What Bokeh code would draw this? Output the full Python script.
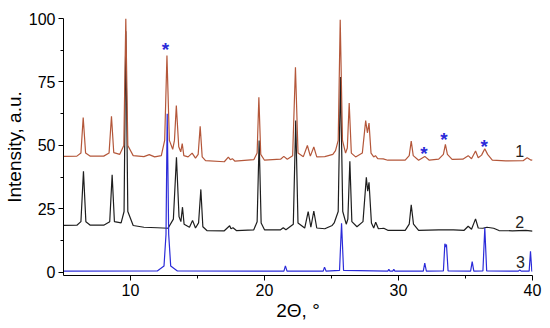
from bokeh.plotting import figure
from bokeh.models import Range1d, FixedTicker, Title
from bokeh.core.properties import value
from bokeh.embed import file_html
from bokeh.resources import INLINE

# ---- data ----
x1 = [5.0, 6.0, 6.3, 6.47, 6.65, 7.0, 8.0, 8.4, 8.58, 8.75, 9.2, 9.5, 9.65, 9.8, 10.2, 11.0, 11.4, 11.8,
      12.3, 12.55, 12.72, 12.9, 13.15, 13.28, 13.42, 13.6, 13.75, 13.86, 13.98, 14.3, 14.6, 14.85, 15.05,
      15.2, 15.35, 15.6, 17.0, 17.3, 17.45, 17.6, 17.8, 19.2, 19.45, 19.58, 19.72, 20.0, 21.2, 21.44, 21.7,
      22.1, 22.31, 22.5, 22.9, 23.2, 23.42, 23.68, 23.9, 24.5, 25.1, 25.3, 25.5, 25.65, 25.82, 26.05, 26.18,
      26.32, 26.48, 26.8, 27.3, 27.55, 27.68, 27.8, 27.95, 28.15, 28.28, 28.45, 28.86, 29.2, 30.5, 30.8,
      30.95, 31.1, 31.5, 31.96, 32.3, 33.0, 33.35, 33.5, 33.65, 34.0, 34.8, 35.2, 35.45, 35.75, 35.95, 36.2,
      36.44, 36.65, 37.0, 38.0, 39.3, 39.6, 39.9, 40.0]
y1 = [45.7, 45.8, 47.0, 61.0, 47.0, 45.8, 45.8, 47.0, 61.5, 47.2, 46.5, 50.0, 100.0, 50.0, 46.0, 45.6, 46.4, 45.5,
      46.0, 52.0, 85.4, 52.0, 48.5, 52.0, 65.7, 49.5, 47.5, 50.7, 46.0, 45.5, 47.0, 45.0, 46.5,
      57.6, 45.5, 44.0, 43.6, 45.4, 44.4, 44.8, 43.8, 44.4, 47.0, 69.0, 46.5, 44.2, 44.6, 45.7, 44.6,
      46.0, 80.8, 47.0, 45.6, 50.0, 45.8, 49.4, 45.5, 45.6, 46.5, 48.0, 52.0, 99.5, 52.0, 47.0, 49.0,
      66.7, 47.0, 45.5, 47.0, 59.8, 55.0, 58.8, 47.0, 45.5, 46.0, 44.8, 44.7, 44.2, 44.2, 46.0,
      51.7, 46.0, 44.2, 45.7, 44.2, 44.6, 46.5, 50.4, 46.5, 44.5, 44.6, 46.0, 44.8, 47.8, 45.2, 46.2,
      48.7, 46.5, 44.2, 43.9, 44.0, 45.2, 44.2, 44.3]

x2 = [5.0, 6.0, 6.3, 6.49, 6.67, 7.0, 8.0, 8.45, 8.63, 8.8, 9.3, 9.52, 9.65, 9.8, 10.2, 11.0, 12.0, 12.8,
      13.2, 13.43, 13.62, 13.76, 13.88, 14.0, 14.4, 14.63, 14.85, 15.08, 15.25, 15.4, 15.7, 17.0, 17.4,
      17.5, 17.65, 17.9, 19.2, 19.45, 19.6, 19.75, 20.0, 21.2, 21.4, 21.6, 22.15, 22.33, 22.5, 23.0, 23.26,
      23.46, 23.68, 23.9, 24.5, 25.05, 25.2, 25.5, 25.67, 25.84, 26.1, 26.22, 26.37, 26.52, 26.9, 27.35,
      27.6, 27.7, 27.8, 27.98, 28.15, 28.3, 28.5, 28.9, 29.2, 30.5, 30.8, 30.95, 31.12, 31.5, 33.0, 34.1,
      34.9, 35.2, 35.45, 35.75, 35.95, 36.3, 36.6, 37.1, 37.5, 38.5, 39.5, 40.0]
y2 = [18.5, 18.6, 20.0, 39.8, 20.0, 18.6, 18.6, 20.0, 38.5, 20.0, 19.5, 24.0, 95.0, 24.0, 18.5, 17.8, 17.6, 17.4,
      21.0, 45.4, 22.0, 20.0, 25.7, 19.0, 17.8, 20.5, 17.5, 19.5, 32.7, 18.0, 16.5, 16.4, 18.4,
      17.2, 17.6, 16.5, 16.8, 20.0, 52.0, 19.5, 16.8, 16.8, 17.6, 16.8, 19.0, 59.8, 19.5, 17.5, 24.0,
      17.8, 24.2, 17.5, 17.2, 18.5, 19.5, 24.0, 77.0, 24.0, 19.0, 21.0, 43.8, 20.0, 18.0, 20.0,
      37.5, 32.0, 35.5, 19.5, 17.5, 19.8, 17.2, 17.4, 16.6, 16.6, 19.0, 26.6, 19.0, 16.6, 16.8, 16.8,
      16.6, 18.2, 17.0, 21.1, 17.5, 17.4, 17.8, 17.4, 16.5, 16.4, 16.6, 16.3]

x3 = [5.0, 12.0, 12.5, 12.65, 12.74, 12.85, 13.0, 13.5, 21.45, 21.56, 21.68, 24.38, 24.48, 24.6, 25.6, 25.75,
      25.9, 29.2, 29.28, 29.36, 29.57, 29.65, 29.73, 31.85, 31.96, 32.08, 33.35, 33.46, 33.52, 33.58, 33.7,
      35.38, 35.5, 35.62, 36.3, 36.44, 36.58, 38.95, 39.05, 39.15, 39.75, 39.85, 39.95, 40.0]
y3 = [0.5, 0.6, 2.5, 15.0, 62.5, 15.0, 2.5, 0.6, 0.5, 2.6, 0.5, 0.5, 2.1, 0.5, 0.8, 19.4,
      0.8, 0.5, 1.2, 0.5, 0.5, 1.2, 0.5, 0.5, 3.7, 0.5, 0.6, 11.3, 10.0, 11.0, 0.6,
      0.5, 4.3, 0.5, 0.6, 17.6, 0.6, 0.5, 1.0, 0.5, 0.5, 8.3, 0.5, 0.5]

star_x = [12.6, 31.9, 33.4, 36.4]
star_y = [89.4, 48.6, 53.9, 51.3]

label_text = ["1", "2", "3"]
label_x = [39.05, 39.05, 39.1]
label_y = [48.0, 19.8, 4.0]

x_ticks = [10, 20, 30, 40]
x_minor = [15, 25, 35]
y_ticks = [0, 25, 50, 75, 100]
y_minor = [12.5, 37.5, 62.5, 87.5]

x_title = "2Θ, °"
y_title = "Intensity, a.u."

FONT = "Liberation Sans"

p = figure(width=550, height=328, output_backend="svg", toolbar_location=None,
           x_range=Range1d(5, 40), y_range=Range1d(-1.2, 100),
           min_border_left=63, min_border_right=18, min_border_top=18, min_border_bottom=53)
p.outline_line_color = None
p.grid.visible = False
p.background_fill_color = "white"
p.border_fill_color = "white"

p.line(x2, y2, line_color="#1e1e1e", line_width=1.2)
p.line(x3, y3, line_color="#2b2bd9", line_width=1.2)
p.line(x1, y1, line_color="#b4573a", line_width=1.2)

p.text(x=star_x, y=star_y, text=["*"] * len(star_x), text_font=value(FONT), text_font_size="19px",
       text_font_style="bold", text_color="#2b2bd9", text_align="center", text_baseline="alphabetic",
       y_offset=4)

p.text(x=label_x, y=label_y, text=label_text, text_font=value(FONT), text_font_size="16px",
       text_color="#222222", text_align="center", text_baseline="middle")

for ax in (p.xaxis[0], p.yaxis[0]):
    ax.axis_line_color = "black"
    ax.axis_line_width = 1
    ax.major_tick_line_color = "black"
    ax.minor_tick_line_color = "black"
    ax.major_tick_in = 0
    ax.major_tick_out = 5
    ax.minor_tick_in = 0
    ax.minor_tick_out = 3
    ax.major_label_text_font = FONT
    ax.major_label_text_font_size = "16px"
    ax.major_label_text_color = "black"
    ax.axis_label_text_font = FONT
    ax.axis_label_text_font_size = "19px"
    ax.axis_label_text_font_style = "normal"
    ax.axis_label_text_color = "black"

p.xaxis[0].major_label_standoff = 3
p.xaxis[0].axis_label_standoff = 1
p.xaxis[0].axis_label = x_title
p.yaxis[0].major_label_standoff = 3
p.xaxis[0].ticker = FixedTicker(ticks=x_ticks, minor_ticks=x_minor)
p.yaxis[0].ticker = FixedTicker(ticks=y_ticks, minor_ticks=y_minor)

p.add_layout(Title(text=y_title, align="center", offset=13, text_font=FONT, text_font_size="19px",
                   text_font_style="normal", text_color="black", standoff=2), "left")

open("out.html", "w").write(file_html(p, INLINE))
